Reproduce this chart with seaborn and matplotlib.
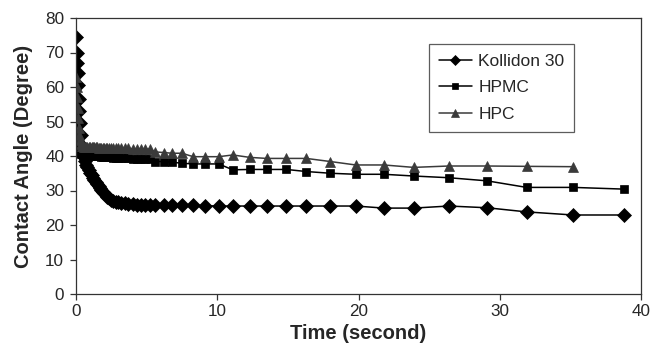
import numpy as np
import pandas as pd
import matplotlib
matplotlib.use("Agg")
import matplotlib.pyplot as plt
import seaborn as sns

time = [0, 0.04, 0.08, 0.12, 0.16, 0.2, 0.24, 0.28, 0.32, 0.4, 0.48, 0.56, 0.64, 0.72,
        0.8, 0.9, 1.0, 1.1, 1.2, 1.3, 1.4, 1.5, 1.6, 1.7, 1.8, 1.9, 2.0, 2.1, 2.2, 2.35,
        2.5, 2.65, 2.8, 3.0, 3.2, 3.45, 3.7, 4.0, 4.3, 4.6, 4.9, 5.25, 5.6, 6.2, 6.8,
        7.5, 8.3, 9.1, 10.1, 11.1, 12.3, 13.5, 14.9, 16.3, 18.0, 19.8, 21.8, 23.9, 26.4,
        29.1, 31.9, 35.2, 38.8]

kollidon = [74.5, 70, 67, 64, 60.5, 56.5, 53, 49.5, 46, 43, 41, 39.8, 38.5, 37.5,
            36.8, 36, 35.2, 34.4, 33.6, 33, 32.5, 32, 31.3, 30.8, 30.2, 29.7, 29.2, 28.7,
            28.2, 27.7, 27.3, 27.0, 26.8, 26.6, 26.4, 26.3, 26.1, 26.0, 25.9, 25.9, 25.8,
            25.8, 25.8, 25.8, 25.8, 25.8, 25.7, 25.6, 25.5, 25.5, 25.5, 25.5, 25.5, 25.5,
            25.5, 25.5, 24.9, 24.9, 25.5, 25.0, 23.8, 22.9, 22.9]

hpmc = [46, 44, 43, 42, 41.5, 41, 41, 40.8, 40.6, 40.5, 40.4, 40.3, 40.3, 40.3,
        40.3, 40.2, 40.2, 40.1, 40.1, 40.0, 40.0, 40.0, 39.9, 39.9, 39.8, 39.8, 39.7,
        39.7, 39.6, 39.6, 39.6, 39.5, 39.5, 39.5, 39.4, 39.4, 39.3, 39.2, 39.2, 39.1,
        39.0, 39.0, 38.4, 38.4, 38.2, 37.9, 37.7, 37.7, 37.7, 36.0, 36.1, 36.1, 36.1,
        35.5, 35.0, 34.7, 34.7, 34.2, 33.7, 32.8, 30.9, 30.9, 30.4]

hpc = [63, 60, 57, 54, 51, 48, 46, 44.5, 43.5, 43, 42.8, 42.7, 42.6, 42.6,
       42.5, 42.5, 42.5, 42.5, 42.5, 42.5, 42.5, 42.5, 42.4, 42.4, 42.4, 42.4, 42.4,
       42.3, 42.3, 42.3, 42.3, 42.3, 42.3, 42.3, 42.3, 42.2, 42.2, 42.1, 42.1, 42.0,
       42.0, 42.0, 41.2, 41.0, 40.8, 40.8, 39.8, 39.8, 39.8, 40.3, 39.6, 39.3, 39.3,
       39.3, 38.4, 37.4, 37.4, 36.7, 37.1, 37.1, 37.0, 36.9, np.nan]

series_names = ["Kollidon 30", "HPMC", "HPC"]
x_ticks = [0, 10, 20, 30, 40]
y_ticks = [0, 10, 20, 30, 40, 50, 60, 70, 80]

sns.set_style("white")
plt.rcParams["font.family"] = ["Liberation Sans", "DejaVu Sans"]

fig = plt.figure(figsize=(6.51, 3.48), dpi=100)
ax = fig.add_axes([76 / 651, 1 - 294 / 348, (641 - 76) / 651, (294 - 18) / 348])

styles = [
    dict(marker="D", color="black", ms=6.8, mfc="black", mec="black"),
    dict(marker="s", color="black", ms=5.6, mfc="black", mec="black"),
    dict(marker="^", color="#3a3a3a", ms=7.0, mfc="#3a3a3a", mec="#3a3a3a"),
]
for name, vals, st in zip(series_names, [kollidon, hpmc, hpc], styles):
    df = pd.DataFrame({"t": time, "v": vals}).dropna()
    sns.lineplot(data=df, x="t", y="v", ax=ax, color=st["color"], linewidth=1.1,
                 marker=st["marker"], markersize=st["ms"], markerfacecolor=st["mfc"],
                 markeredgecolor=st["mec"], markeredgewidth=0.5, label=name)

ax.set_xlim(0, 40)
ax.set_ylim(0, 80)
ax.set_xticks(x_ticks)
ax.set_yticks(y_ticks)
ax.tick_params(axis="both", direction="out", length=4.5, width=0.9, color="#333333",
               labelsize=12.3, bottom=True, left=True)
ax.tick_params(axis="x", pad=3)
ax.tick_params(axis="y", pad=4)
for s in ax.spines.values():
    s.set_color("#333333")
    s.set_linewidth(0.9)
ax.set_xlabel("Time (second)", fontsize=14.5, fontweight="bold", labelpad=3)
ax.set_ylabel("Contact Angle (Degree)", fontsize=14.5, fontweight="bold", labelpad=9)

leg = ax.legend(loc="upper left", bbox_to_anchor=((429 - 76) / 565, (294 - 44) / 276),
                frameon=True, fancybox=False, shadow=False, fontsize=12.5,
                handlelength=1.9, borderpad=0.55, labelspacing=0.67, handletextpad=0.4,
                borderaxespad=0)
leg.get_frame().set_edgecolor("#333333")
leg.get_frame().set_linewidth(0.9)
for h, s in zip(leg.get_lines(), [5.0, 4.2, 5.5]):
    h.set_markersize(s)

fig.savefig("out.png", dpi=100)
